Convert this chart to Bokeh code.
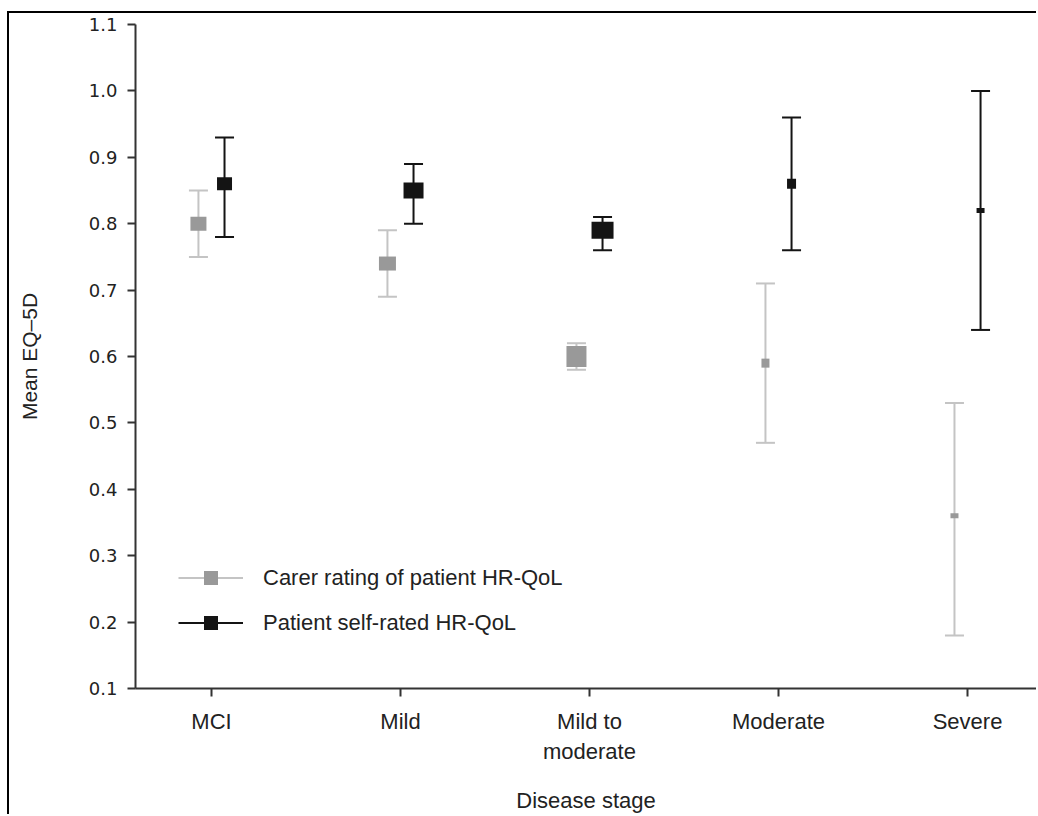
from bokeh.plotting import figure
from bokeh.models import (ColumnDataSource, Range1d, FixedTicker, Whisker, TeeHead,
                          Legend, LegendItem, NumeralTickFormatter)
from bokeh.transform import dodge
from bokeh.embed import file_html
from bokeh.resources import INLINE

# ---- data ----
stages = ["MCI", "Mild", "Mild to\nmoderate", "Moderate", "Severe"]
carer_mean = [0.80, 0.74, 0.60, 0.59, 0.36]
carer_low = [0.75, 0.69, 0.58, 0.47, 0.18]
carer_high = [0.85, 0.79, 0.62, 0.71, 0.53]
patient_mean = [0.86, 0.85, 0.79, 0.86, 0.82]
patient_low = [0.78, 0.80, 0.76, 0.76, 0.64]
patient_high = [0.93, 0.89, 0.81, 0.96, 1.00]
y_ticks = [0.1, 0.2, 0.3, 0.4, 0.5, 0.6, 0.7, 0.8, 0.9, 1.0, 1.1]
legend_labels = ["Carer rating of patient HR-QoL", "Patient self-rated HR-QoL"]

# ---- styles (marker box sizes in px) ----
carer_w = [16, 17, 20, 8, 8]
carer_h = [14, 14, 21, 9, 5]
patient_w = [15, 20, 22, 9, 8]
patient_h = [13, 16, 17, 10, 5]
GREY_LINE = "#c4c4c4"
GREY_FILL = "#999999"
BLACK = "#141414"
OFF = 0.069

xs = list(range(len(stages)))
src = ColumnDataSource(dict(
    x=xs, cm=carer_mean, cl=carer_low, ch=carer_high,
    pm=patient_mean, pl=patient_low, ph=patient_high,
    cw=carer_w, chh=carer_h, pw=patient_w, phh=patient_h,
))

p = figure(width=1029, height=803, output_backend="svg", toolbar_location=None,
           x_range=Range1d(-0.402, 4.365), y_range=Range1d(0.1, 1.1),
           min_border_left=126, min_border_right=2, min_border_top=11,
           min_border_bottom=128)
p.styles = {"border-left": "2px solid black", "border-top": "2px solid black",
            "margin-left": "7px", "margin-top": "11px"}
p.outline_line_color = None
p.xgrid.visible = False
p.ygrid.visible = False

# whiskers
wc = Whisker(base=dodge("x", -OFF), lower="cl", upper="ch", source=src,
             line_color=GREY_LINE, line_width=2, level="underlay",
             upper_head=TeeHead(size=19, line_color=GREY_LINE, line_width=2),
             lower_head=TeeHead(size=19, line_color=GREY_LINE, line_width=2))
wp = Whisker(base=dodge("x", OFF), lower="pl", upper="ph", source=src,
             line_color=BLACK, line_width=2, level="underlay",
             upper_head=TeeHead(size=19, line_color=BLACK, line_width=2),
             lower_head=TeeHead(size=19, line_color=BLACK, line_width=2))
p.add_layout(wc)
p.add_layout(wp)

p.rect(x=dodge("x", -OFF), y="cm", width="cw", height="chh", width_units="screen",
       height_units="screen", source=src, fill_color=GREY_FILL, line_color=None)
p.rect(x=dodge("x", OFF), y="pm", width="pw", height="phh", width_units="screen",
       height_units="screen", source=src, fill_color=BLACK, line_color=None)

# legend proxies (single NaN point: nothing drawn in the plot)
nan = float("nan")
proxy = ColumnDataSource(dict(x=[nan], y=[nan]))
lc = p.line("x", "y", source=proxy, line_color=GREY_LINE, line_width=2)
sc = p.scatter("x", "y", source=proxy, marker="square", fill_color=GREY_FILL, line_color=None)
lp = p.line("x", "y", source=proxy, line_color=BLACK, line_width=2)
sp = p.scatter("x", "y", source=proxy, marker="square", fill_color=BLACK, line_color=None)
legend = Legend(items=[LegendItem(label=legend_labels[0], renderers=[lc, sc]),
                       LegendItem(label=legend_labels[1], renderers=[lp, sp])],
                location=(43, 48), padding=0, margin=0, spacing=10,
                glyph_width=65, glyph_height=35, label_standoff=20,
                label_text_font="Liberation Sans", label_text_font_size="22px",
                label_text_color="#222222", border_line_color=None,
                background_fill_alpha=0)
p.add_layout(legend)

# axes
xa = p.xaxis[0]
xa.ticker = FixedTicker(ticks=xs)
xa.major_label_overrides = {i: s for i, s in zip(xs, stages)}
xa.axis_label = "Disease stage"
ya = p.yaxis[0]
ya.ticker = FixedTicker(ticks=y_ticks)
ya.formatter = NumeralTickFormatter(format="0.0")
ya.axis_label = "Mean EQ\u20135D"

for ax in (xa, ya):
    ax.axis_line_color = "#333333"
    ax.axis_line_width = 2
    ax.major_tick_line_color = "#333333"
    ax.major_tick_line_width = 2
    ax.major_tick_out = 8
    ax.major_tick_in = 0
    ax.minor_tick_line_color = None
    ax.major_label_text_color = "#222222"
    ax.axis_label_text_color = "#222222"
    ax.axis_label_text_font = "Liberation Sans"
    ax.axis_label_text_font_style = "normal"
    ax.axis_label_text_font_size = "22px"

xa.major_label_text_font = "Liberation Sans"
xa.major_label_text_font_size = "22px"
xa.major_label_standoff = 12
xa.axis_label_standoff = 21
ya.major_label_text_font = "DejaVu Sans"
ya.major_label_text_font_size = "18px"
ya.major_label_standoff = 10
ya.axis_label_standoff = 45
ya.axis_label_text_font_size = "21px"

open("out.html", "w").write(file_html(p, INLINE))
